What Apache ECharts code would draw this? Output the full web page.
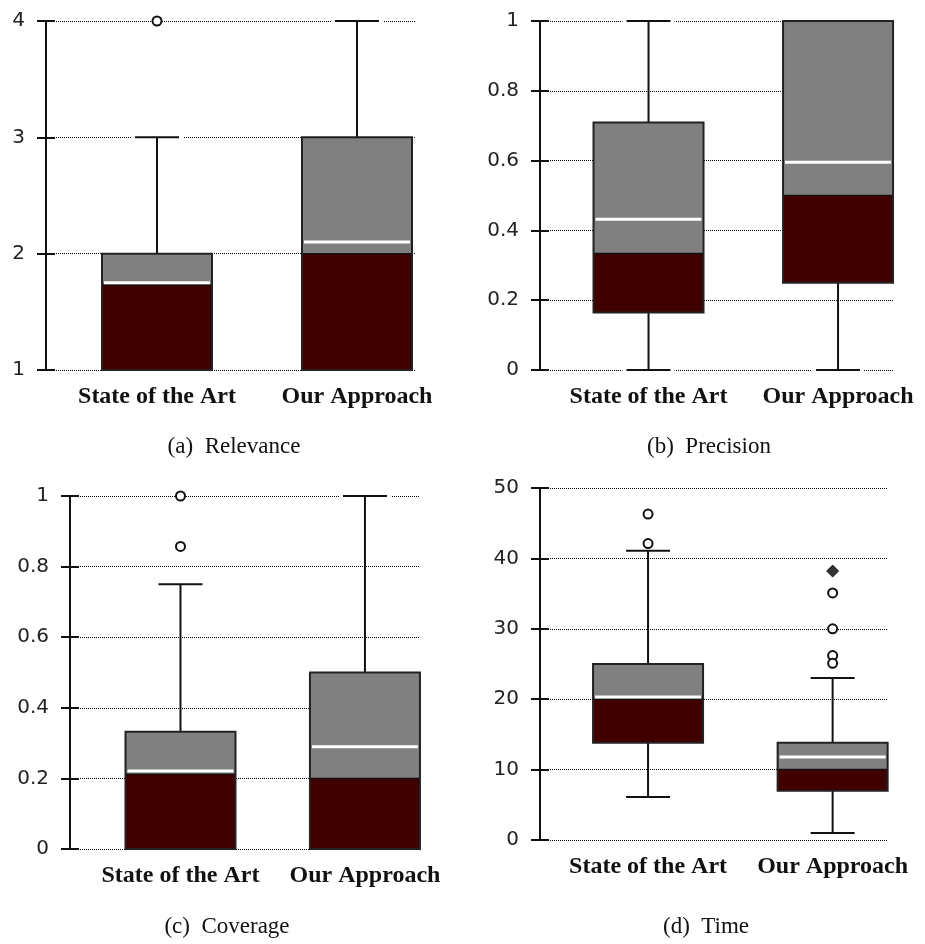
<!DOCTYPE html>
<html><head><meta charset="utf-8">
<script src="https://cdn.jsdelivr.net/npm/echarts@6/dist/echarts.min.js"></script>
<style>html,body{margin:0;padding:0;background:#fff}#c{width:925px;height:944px}</style>
</head><body><div id="c"></div>
<script>
const categories = ['State of the Art', 'Our Approach'];
const captions = ['(a)  Relevance', '(b)  Precision', '(c)  Coverage', '(d)  Time'];
// each box: [low whisker, Q1, median, Q3, high whisker, mean]
const relevanceBoxes = [[1, 1, 1.73, 2, 3, 1.75], [1, 1, 2, 3, 4, 2.1]];
const precisionBoxes = [[0, 0.165, 0.334, 0.709, 1, 0.432], [0, 0.25, 0.5, 1, 1, 0.595]];
const coverageBoxes = [[0, 0, 0.212, 0.332, 0.75, 0.221], [0, 0, 0.2, 0.5, 1, 0.29]];
const timeBoxes = [[6.1, 13.8, 20, 25, 41.1, 20.3], [1, 7, 10, 13.8, 23, 11.8]];
// outliers: [category index, value]
const relevanceOutliers = [[0, 4]];
const precisionOutliers = [];
const coverageOutliers = [[0, 1], [0, 0.857]];
const timeOutliers = [[0, 46.3], [0, 42.1], [1, 35.1], [1, 30], [1, 26.2], [1, 25.1]];
const timeExtremes = [[1, 38.2]];
// y axis ranges: [min, max, interval]
const relevanceAxis = [1, 4, 1];
const precisionAxis = [0, 1, 0.2];
const coverageAxis = [0, 1, 0.2];
const timeAxis = [0, 50, 10];

const panels = [
  {boxes: relevanceBoxes, out: relevanceOutliers, ext: [], axis: relevanceAxis,
   grid: {left: 46, top: 21, width: 369, height: 349}, xr: [0.445, 2.29], cap: [234, 447]},
  {boxes: precisionBoxes, out: precisionOutliers, ext: [], axis: precisionAxis,
   grid: {left: 540, top: 21, width: 353, height: 349}, xr: [0.4274, 2.29], cap: [709, 447]},
  {boxes: coverageBoxes, out: coverageOutliers, ext: [], axis: coverageAxis,
   grid: {left: 70, top: 496, width: 349, height: 353}, xr: [0.401, 2.293], cap: [227, 927]},
  {boxes: timeBoxes, out: timeOutliers, ext: timeExtremes, axis: timeAxis,
   grid: {left: 540, top: 488, width: 348, height: 352}, xr: [0.4146, 2.30], cap: [706, 927]}
];

const INK = '#111';
function renderBox(params, api) {
  const x = api.value(0);
  const pt = v => api.coord([x, v]);
  const c = pt(api.value(1));
  const cx = c[0], yLow = c[1];
  const yQ1 = pt(api.value(2))[1], yMed = pt(api.value(3))[1], yQ3 = pt(api.value(4))[1];
  const yHigh = pt(api.value(5))[1], yMean = pt(api.value(6))[1];
  const hw = 55, cw = 22;
  const line = (x1, y1, x2, y2, stroke, w) => ({type: 'line', shape: {x1, y1, x2, y2}, style: {stroke, lineWidth: w}});
  return {type: 'group', children: [
    line(cx - cw - 4, yHigh, cx + cw + 4, yHigh, '#fff', 4),
    line(cx - cw - 4, yLow, cx + cw + 4, yLow, '#fff', 4),
    line(cx, yQ3, cx, yHigh, INK, 2),
    line(cx, yQ1, cx, yLow, INK, 2),
    line(cx - cw, yHigh, cx + cw, yHigh, INK, 2),
    line(cx - cw, yLow, cx + cw, yLow, INK, 2),
    {type: 'rect', shape: {x: cx - hw, y: yMed, width: 2 * hw, height: yQ1 - yMed}, style: {fill: '#400000'}},
    {type: 'rect', shape: {x: cx - hw, y: yQ3, width: 2 * hw, height: yMed - yQ3}, style: {fill: '#808080'}},
    line(cx - hw, yMed, cx + hw, yMed, INK, 1.5),
    line(cx - hw + 2, yMean, cx + hw - 2, yMean, '#fff', 3),
    {type: 'rect', shape: {x: cx - hw, y: yQ3, width: 2 * hw, height: yQ1 - yQ3}, style: {fill: 'transparent', stroke: '#222', lineWidth: 2}}
  ]};
}

const grid = [], xAxis = [], yAxis = [], series = [], graphic = [];
const N = panels.length;
panels.forEach((p, i) => {
  grid.push(Object.assign({}, p.grid));
  xAxis.push({
    type: 'value', gridIndex: i, min: p.xr[0], max: p.xr[1],
    axisLine: {show: false}, axisTick: {show: false}, splitLine: {show: false},
    axisLabel: {
      customValues: [1, 2], margin: 15,
      formatter: v => (Math.abs(v - Math.round(v)) < 1e-6 && categories[Math.round(v) - 1]) || '',
      fontFamily: 'Liberation Serif', fontWeight: 'bold', fontSize: 24, color: '#111'
    }
  });
  yAxis.push({
    type: 'value', gridIndex: i, min: p.axis[0], max: p.axis[1], interval: p.axis[2], position: 'left',
    axisLine: {show: true, lineStyle: {color: INK, width: 2}},
    axisTick: {show: true, length: 9, lineStyle: {color: INK, width: 2}},
    axisLabel: {margin: 21, fontFamily: 'DejaVu Sans', fontSize: 20, color: '#222'},
    splitLine: {show: true, lineStyle: {color: '#000', width: 1, type: [1, 1]}}
  });
  series.push({
    type: 'custom', xAxisIndex: i, yAxisIndex: i, renderItem: renderBox,
    encode: {x: 0, y: [1, 2, 3, 4, 5, 6]},
    data: p.boxes.map((b, k) => [k + 1].concat(b)), z: 2
  });
  series.push({
    type: 'scatter', xAxisIndex: i, yAxisIndex: i, symbol: 'circle', symbolSize: 9,
    itemStyle: {color: '#fff', borderColor: '#111', borderWidth: 2, opacity: 1},
    data: p.out.map(o => [o[0] + 1, o[1]]), z: 5
  });
  if (p.ext.length) {
    series.push({
      type: 'scatter', xAxisIndex: i, yAxisIndex: i, symbol: 'diamond', symbolSize: 12,
      itemStyle: {color: '#000', borderColor: '#000', borderWidth: 1},
      data: p.ext.map(o => [o[0] + 1, o[1]]), z: 5
    });
  }
  graphic.push({
    type: 'text', x: p.cap[0], y: p.cap[1],
    style: {text: captions[i], fontFamily: 'Liberation Serif', fontSize: 23, fill: '#111',
            textAlign: 'center', textVerticalAlign: 'middle'}
  });
});
// overlay grids: same rectangles, only the inner half of each y tick mark
panels.forEach((p, i) => {
  grid.push(Object.assign({}, p.grid));
  xAxis.push({type: 'value', gridIndex: N + i, min: 0, max: 1, show: false});
  yAxis.push({
    type: 'value', gridIndex: N + i, min: p.axis[0], max: p.axis[1], interval: p.axis[2], position: 'left',
    axisLine: {show: false},
    axisTick: {show: true, inside: true, length: 9, lineStyle: {color: INK, width: 2}},
    axisLabel: {show: false}, splitLine: {show: false}
  });
  series.push({type: 'scatter', xAxisIndex: N + i, yAxisIndex: N + i, data: [], silent: true});
});

const chart = echarts.init(document.getElementById('c'), null, {renderer: 'canvas'});
chart.setOption({backgroundColor: '#fff', animation: false, grid, xAxis, yAxis, series, graphic});
</script></body></html>
